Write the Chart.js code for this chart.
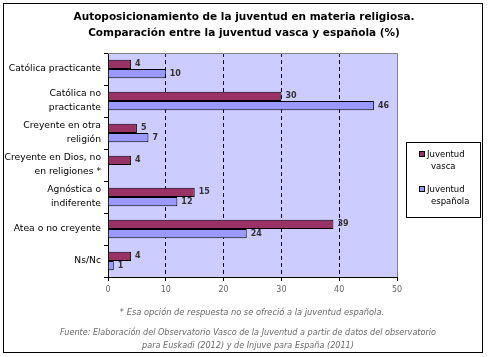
<!DOCTYPE html>
<html><head><meta charset="utf-8">
<script src="https://cdn.jsdelivr.net/npm/chart.js@4/dist/chart.umd.min.js"></script>
<style>html,body{margin:0;padding:0;background:#fff}#wrap{width:490px;height:357px;position:relative}</style>
</head><body><div id="wrap"><canvas id="c" width="490" height="357"></canvas></div>
<script>
const categories = [["Católica practicante"],["Católica no","practicante"],["Creyente en otra","religión"],["Creyente en Dios, no","en religiones *"],["Agnóstica o","indiferente"],["Atea o no creyente"],["Ns/Nc"]];
const seriesNames = [["Juventud","vasca"],["Juventud","española"]];
const vasca = [4,30,5,4,15,39,4];
const espanola = [10,46,7,null,12,24,1];
const xTicks = [0,10,20,30,40,50];
const titleLines = ["Autoposicionamiento de la juventud en materia religiosa.","Comparación entre la juventud vasca y española (%)"];
const noteLines = ["* Esa opción de respuesta no se ofreció a la juventud española."];
const sourceLines = ["Fuente: Elaboración del Observatorio Vasco de la Juventud a partir de datos del observatorio","para Euskadi (2012) y de Injuve para España (2011)"];

const FONT = "'DejaVu Sans', Verdana, sans-serif";

const deco = {
  id:'deco',
  beforeDraw(chart){
    const {ctx, chartArea:a} = chart;
    ctx.save();
    ctx.fillStyle='#fff'; ctx.fillRect(0,0,chart.width,chart.height);
    ctx.fillStyle='#CCCCFF'; ctx.fillRect(a.left,a.top,a.right-a.left,a.bottom-a.top);
    ctx.restore();
  },
  afterDraw(chart){
    const {ctx, chartArea:a} = chart;
    ctx.save();
    ctx.strokeStyle='#808080'; ctx.lineWidth=1;
    ctx.beginPath();
    ctx.moveTo(a.left, a.top+0.5); ctx.lineTo(a.right+0.5, a.top+0.5); ctx.lineTo(a.right+0.5, a.bottom);
    ctx.stroke();
    ctx.strokeStyle='#000'; ctx.lineWidth=1;
    ctx.strokeRect(3.5,3.5,479,349);
    ctx.fillStyle='#000'; ctx.textAlign='center'; ctx.textBaseline='middle';
    ctx.font="bold 10.5px "+FONT;
    titleLines.forEach((t,i)=>ctx.fillText(t,244,17+i*16));
    ctx.fillStyle='#6a6a6a';
    ctx.font="italic 8.3px "+FONT;
    noteLines.forEach((t,i)=>ctx.fillText(t,252,313+i*13));
    ctx.font="italic 8.1px "+FONT;
    sourceLines.forEach((t,i)=>ctx.fillText(t,248,333+i*13));
    ctx.font="bold 8px "+FONT; ctx.textAlign='left'; ctx.fillStyle='#333';
    chart.data.datasets.forEach((ds,di)=>{
      const meta=chart.getDatasetMeta(di);
      meta.data.forEach((el,i)=>{
        const v=ds.data[i]; if(v==null) return;
        ctx.fillText(String(v), el.x+4, el.y);
      });
    });
    const lx=406.5, ly=142.5, lw=74, lh=75;
    ctx.strokeStyle='#000'; ctx.strokeRect(lx,ly,lw,lh);
    ctx.font="8.5px "+FONT; ctx.textBaseline='middle';
    chart.data.datasets.forEach((ds,di)=>{
      const y0 = 155 + di*35;
      ctx.fillStyle=ds.backgroundColor; ctx.fillRect(419.5,y0-3.5,5,5);
      ctx.strokeStyle='#000'; ctx.strokeRect(419.5,y0-3.5,5,5);
      ctx.fillStyle='#000';
      seriesNames[di].forEach((t,k)=>ctx.fillText(t, k===0?427:431, y0+k*12));
    });
    ctx.restore();
  }
};

new Chart(document.getElementById('c'),{
  type:'bar',
  data:{
    labels:categories,
    datasets:[
      {label:seriesNames[0].join(' '), data:vasca, backgroundColor:'#993366', borderColor:'#000', borderWidth:1, barPercentage:1, categoryPercentage:0.58},
      {label:seriesNames[1].join(' '), data:espanola, backgroundColor:'#9999FF', borderColor:'#000', borderWidth:1, barPercentage:1, categoryPercentage:0.58}
    ]
  },
  options:{
    indexAxis:'y', responsive:false, animation:false,
    layout:{padding:{left:0,right:93,top:53,bottom:60}},
    plugins:{legend:{display:false},tooltip:{enabled:false}},
    scales:{
      x:{
        min:0,max:50,
        afterBuildTicks(s){ s.ticks = xTicks.map(v=>({value:v})); },
        afterFit(s){ s.height=20; },
        ticks:{font:{family:FONT,size:8},color:'#666',padding:4,maxRotation:0},
        grid:{color:(c)=>(c.tick && (c.tick.value===0||c.tick.value===50))?'rgba(0,0,0,0)':'#000', tickColor:'#000', tickLength:4, lineWidth:1},
        border:{display:true,color:'#000',dash:[4,3]}
      },
      y:{
        afterFit(s){ s.width=108; },
        ticks:{font:{family:FONT,size:9.2,lineHeight:1.5},color:'#000',padding:3,crossAlign:'near'},
        grid:{offset:true,color:'rgba(0,0,0,0)',tickColor:'#000',tickLength:4},
        border:{display:true,color:'#000'}
      }
    }
  },
  plugins:[deco]
});
</script></body></html>
